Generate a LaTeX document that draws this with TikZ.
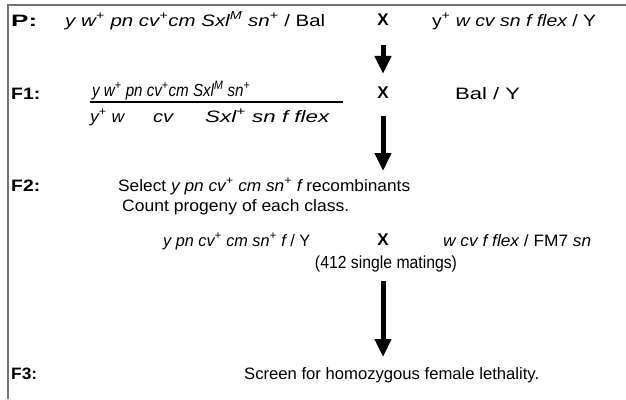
\documentclass[tikz,border=0pt]{standalone}
\usepackage{fontspec}
\setmainfont{Liberation Sans}
\usetikzlibrary{arrows.meta}
% superscript allele marks
\newcommand{\al}[1]{\textsuperscript{#1}}
% set a line of text to a given width, keeping its height
\newcommand{\fitw}[2]{\resizebox{#1}{\height}{#2}}
\tikzset{
  txt/.style={inner sep=0pt, anchor=base west, font=\fontsize{16.5}{20}\selectfont},
  big/.style={font=\fontsize{17.5}{21}\selectfont},
  lbl/.style={txt, font=\fontsize{16.5}{20}\selectfont\bfseries},
  cross/.style={inner sep=0pt, font=\fontsize{17}{20}\selectfont\bfseries},
  bigarrow/.style={line width=5pt, -{Triangle[length=18pt,width=16pt]}},
  frame/.style={draw=black!55, line width=1.2pt}
}
\begin{document}
\begin{tikzpicture}[x=1pt,y=-1pt]
\useasboundingbox (0,0) rectangle (626,399);
% frame (left and top edges)
\draw[frame] (8,399) -- (8,5) -- (626,5);

% P generation
\node[lbl] (p) at (11,26) {\fitw{26pt}{P:}};
\node[txt] (pf) at (65,26) {\fitw{260pt}{\itshape y w\al{+} pn cv\al{+}cm Sxl\al{M} sn\al{+}\upshape{} / Bal}};
\node[cross] (x1) at (383,20) {X};
\node[txt] (pm) at (432,26) {\fitw{164pt}{y\al{+} \itshape w cv sn f flex\upshape{} / Y}};

% F1 generation
\node[lbl] (f1) at (11,99) {\fitw{29pt}{F1:}};
\node[txt, big] (num) at (92,96) {\fitw{158pt}{\itshape y w\al{+} pn cv\al{+}cm Sxl\al{M} sn\al{+}}};
\coordinate (barl) at (90,102);
\coordinate (barr) at (343,102);
\draw[line width=1.5pt] (barl) -- (barr);
\node[txt] (den1) at (90,122) {\fitw{34pt}{\itshape y\al{+} w}};
\node[txt] (den2) at (153,122) {\fitw{20pt}{\itshape cv}};
\node[txt] (den3) at (205,122) {\fitw{124pt}{\itshape Sxl\al{+} sn f flex}};
\node[cross] (x2) at (383,93) {X};
\node[txt] (f1m) at (455,99) {\fitw{65pt}{Bal / Y}};

\draw[bigarrow, shorten <=19pt, shorten >=13pt] (x1) -- (x2);

% F2 generation
\node[lbl] (f2) at (11,191) {\fitw{29pt}{F2:}};
\node[txt] (sel) at (118,191) {\fitw{292pt}{Select \itshape y pn cv\al{+} cm sn\al{+} f\upshape{} recombinants}};
\node[txt] (cnt) at (122,211) {\fitw{227pt}{Count progeny of each class.}};
\coordinate (a2) at (383,171);
\draw[bigarrow, shorten <=17pt] (x2) -- (a2);

\node[txt] (cf) at (163,246) {\fitw{147pt}{\itshape y pn cv\al{+} cm sn\al{+} f\upshape{} / Y}};
\node[cross] (x3) at (383,240) {X};
\node[txt] (cm) at (443,246) {\fitw{148pt}{\itshape w cv f flex\upshape{} / FM7 \itshape sn}};
\node[txt, big, anchor=base] (mat) at (386,268) {\fitw{142pt}{(412 single matings)}};

% F3 generation
\node[lbl] (f3) at (11,379) {\fitw{26pt}{F3:}};
\node[txt] (scr) at (244,379) {\fitw{295pt}{Screen for homozygous female lethality.}};
\coordinate (a3) at (383,357);
\draw[bigarrow, shorten <=9pt] (mat.south -| a3) -- (a3);
\end{tikzpicture}
\end{document}
